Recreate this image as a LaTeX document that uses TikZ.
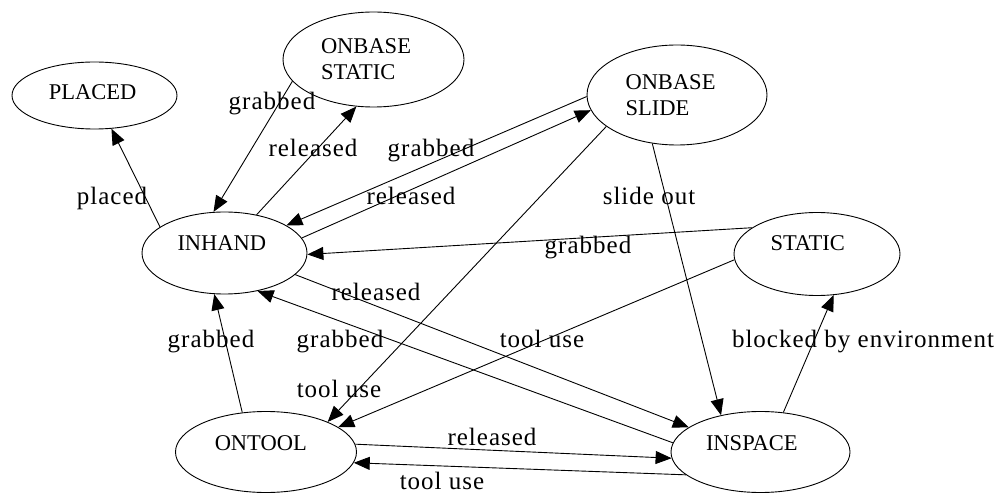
\documentclass[tikz,border=0pt]{standalone}
\usepackage{fontspec}
\setmainfont{Liberation Serif}
\newfontfamily\lblfont[LetterSpace=4]{Liberation Serif}
\usetikzlibrary{shapes.geometric,arrows.meta}
\tikzset{
  state/.style={ellipse, draw, line width=0.9pt, inner sep=0pt,
    font=\fontsize{22.5}{26}\selectfont, align=left, text height=15pt},
  edge/.style={draw, line width=0.9pt, -{Triangle[length=16pt,width=13pt]}},
  lbl/.style={anchor=base, inner sep=0pt, font=\lblfont\fontsize{25}{28}\selectfont},
}
\begin{document}
\begin{tikzpicture}[x=1pt,y=-1pt]
\useasboundingbox (0,0) rectangle (999,494);
% states
\node[state, minimum width=165pt, minimum height=67pt, text width=91.5pt, text depth=7pt] (placed) at (94.5,95.5) {PLACED};
\node[state, minimum width=181pt, minimum height=95pt, text width=105pt, text height=, text depth=] (obstatic) at (373.5,59.5) {ONBASE\\STATIC};
\node[state, minimum width=180pt, minimum height=100pt, text width=103pt, text height=, text depth=] (obslide) at (677,95) {ONBASE\\SLIDE};
\node[state, minimum width=165pt, minimum height=82pt, text width=94pt, text depth=20pt] (inhand) at (224.5,253) {INHAND};
\node[state, minimum width=166pt, minimum height=83pt, text width=93pt, text depth=22pt] (static) at (817,254) {STATIC};
\node[state, minimum width=181pt, minimum height=81pt, text width=102.5pt, text depth=18pt] (ontool) at (266,452) {ONTOOL};
\node[state, minimum width=179pt, minimum height=81pt, text width=109pt, text depth=18pt] (inspace) at (760.5,452) {INSPACE};
% connectors
\path[edge] (inhand.158.9) -- (placed.-63.1);
\path[edge] (obstatic.195.1) -- (inhand.105);
\path[edge] (inhand.50.7) -- (obstatic.250.9);
\path[edge] (obslide.181.3) -- (inhand.24.8);
\path[edge] (inhand.11) -- (obslide.190.5);
\path[edge] (obslide.204.3) -- (ontool.26.2);
\path[edge] (obslide.243.4) -- (inspace.137.4);
\path[edge] (static.158.2) -- (inhand.-1.4);
\path[edge] (static.184.2) -- (ontool.19.3);
\path[edge] (inhand.-17.3) -- (inspace.161.7);
\path[edge] (inspace.174.2) -- (inhand.-49.8);
\path[edge] (ontool.121.6) -- (inhand.-104.6);
\path[edge] (inspace.60) -- (static.-68.7);
\path[edge] (ontool.5.6) -- (inspace.184.9);
\path[edge] (inspace.197.6) -- (ontool.-7.9);
% labels
\node[lbl] (l1) at (112,205) {placed};
\node[lbl] (l2) at (272,110) {grabbed};
\node[lbl] (l3) at (313,157) {released};
\node[lbl] (l4) at (431,157) {grabbed};
\node[lbl] (l5) at (411,205) {released};
\node[lbl] (l6) at (649,205) {slide out};
\node[lbl] (l7) at (588,254) {grabbed};
\node[lbl] (l8) at (376,301) {released};
\node[lbl] (l9) at (340,348) {grabbed};
\node[lbl] (l10) at (211,348) {grabbed};
\node[lbl] (l11) at (542,348) {tool use};
\node[lbl] (l12) at (863,348) {blocked by environment};
\node[lbl] (l13) at (339,397) {tool use};
\node[lbl] (l14) at (492,445) {released};
\node[lbl] (l15) at (442,489) {tool use};
\end{tikzpicture}
\end{document}
